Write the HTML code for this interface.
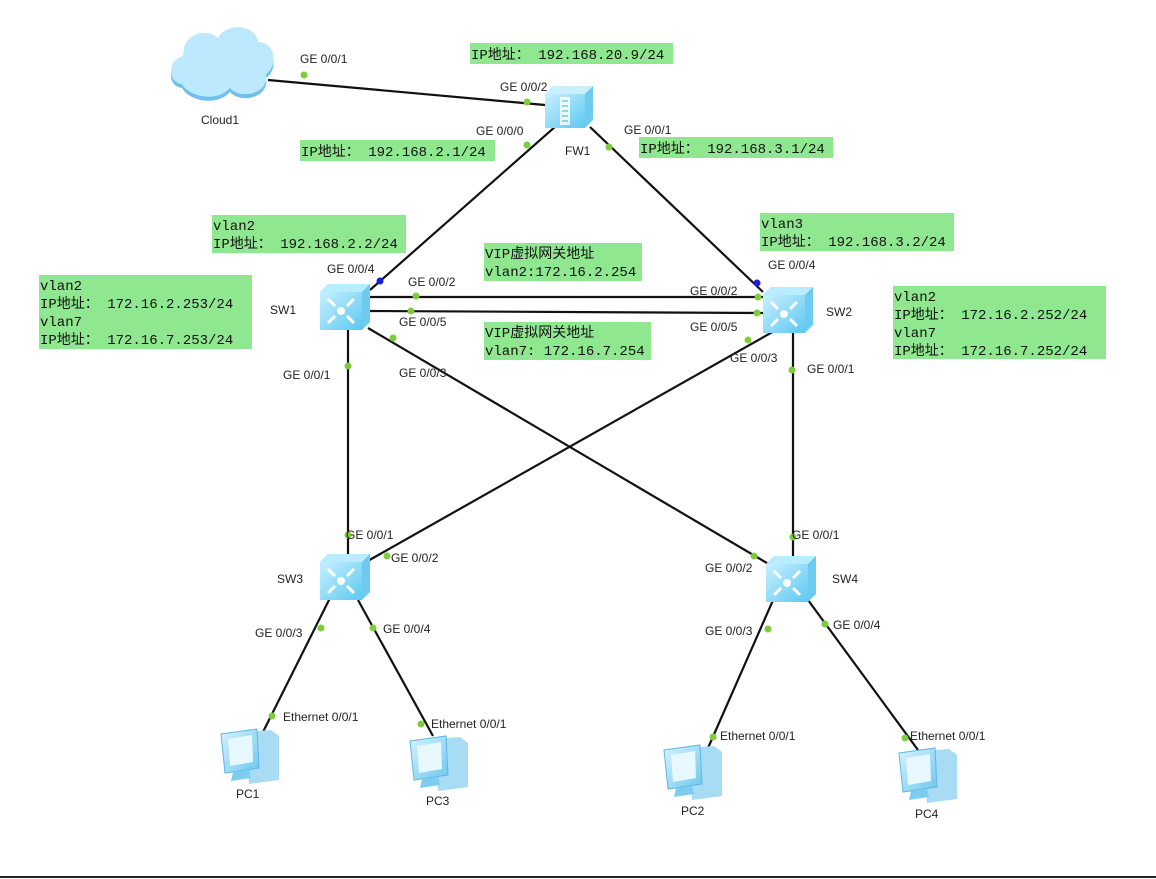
<!DOCTYPE html>
<html><head><meta charset="utf-8"><style>
html,body{margin:0;padding:0;background:#fff}
svg{display:block}
.l{font-family:"Liberation Sans","Noto Sans CJK SC",sans-serif;font-size:12px;fill:#222}
.m{font-family:"Liberation Mono","Noto Sans CJK SC",monospace;font-size:14px;fill:#111}
.g{fill:#8fe88f}
</style></head><body>
<svg width="1156" height="879" viewBox="0 0 1156 879">
<defs>
<linearGradient id="sw" x1="0" y1="0" x2="1" y2="1"><stop offset="0" stop-color="#c8f0ff"/><stop offset="1" stop-color="#5cc8f0"/></linearGradient>
<linearGradient id="pc" x1="0" y1="0" x2="1" y2="1"><stop offset="0" stop-color="#d8f4ff"/><stop offset="1" stop-color="#6cc6ee"/></linearGradient>
<g id="sw1">
<path d="M0 8 L8 0 L50 0 L50 38 L42 46 L0 46 Z" fill="#6ccbee"/>
<rect x="0" y="8" width="42" height="38" fill="url(#sw)"/>
<path d="M0 8 L8 0 L50 0 L42 8 Z" fill="#b8ecff"/>
<circle cx="21" cy="27" r="4" fill="#fff"/>
<path d="M8 15 l7 7 M34 15 l-7 7 M8 39 l7 -7 M34 39 l-7 -7" stroke="#fff" stroke-width="3"/>
</g>
<g id="pcg">
<path d="M24 6 L50 4 L58 10 L58 54 L28 58 Z" fill="#a8dcf4"/>
<path d="M0 8 L36 3 L38 42 L4 47 Z" fill="url(#pc)" stroke="#5cb8e6"/>
<path d="M7 13 L31 9 L32 36 L9 40 Z" fill="#e8f8ff"/>
<path d="M12 46 L28 44 L30 52 L10 55 Z" fill="#7ccdf0"/>
</g>
</defs>
<g stroke="#111" stroke-width="2.2" fill="none">
<line x1="268" y1="80" x2="545" y2="105"/>
<line x1="556" y1="126" x2="370" y2="290"/>
<line x1="590" y1="127" x2="763" y2="292"/>
<line x1="370" y1="297" x2="763" y2="297"/>
<line x1="370" y1="311" x2="763" y2="313"/>
<line x1="348" y1="330" x2="348" y2="555"/>
<line x1="368" y1="328" x2="772" y2="566"/>
<line x1="776" y1="330" x2="366" y2="562"/>
<line x1="793" y1="333" x2="793" y2="556"/>
<line x1="330" y1="598" x2="263" y2="732"/>
<line x1="358" y1="600" x2="433" y2="736"/>
<line x1="774" y1="598" x2="708" y2="748"/>
<line x1="808" y1="600" x2="918" y2="750"/>
</g>
<!-- cloud -->
<g>
<path d="M182 88 C166 86 168 62 184 60 C180 40 205 30 218 42 C226 26 256 28 258 46 C276 46 278 70 266 78 C270 98 240 104 230 92 C218 106 190 102 182 88 Z" fill="#6fc0ec"/>
<path d="M182 84 C166 82 168 58 184 56 C180 36 205 26 218 38 C226 22 256 24 258 42 C276 42 278 66 266 74 C270 94 240 100 230 88 C218 102 190 98 182 84 Z" fill="#bde9ff"/>
</g>
<!-- FW -->
<g transform="translate(545,86)">
<path d="M0 8 L8 0 L48 0 L48 34 L40 42 L0 42 Z" fill="#6ccbee"/>
<rect x="0" y="8" width="40" height="34" fill="url(#sw)"/>
<path d="M0 8 L8 0 L48 0 L40 8 Z" fill="#c8f0ff"/>
<rect x="15" y="11" width="10" height="28" fill="#fff" opacity=".8"/>
<path d="M17 15h6M17 20h6M17 25h6M17 30h6M17 35h6" stroke="#7cc" stroke-width="1.5"/>
</g>
<use href="#sw1" x="320" y="284"/>
<use href="#sw1" x="763" y="287"/>
<use href="#sw1" x="320" y="554"/>
<use href="#sw1" x="766" y="556"/>
<use href="#pcg" x="221" y="726"/>
<use href="#pcg" x="410" y="733"/>
<use href="#pcg" x="664" y="742"/>
<use href="#pcg" x="899" y="745"/>
<!-- dots -->
<g fill="#7dcc3c">
<circle cx="304" cy="75" r="3.5"/><circle cx="527" cy="102" r="3.5"/><circle cx="527" cy="145" r="3.5"/><circle cx="609" cy="147" r="3.5"/>
<circle cx="348" cy="366" r="3.5"/><circle cx="393" cy="338" r="3.5"/><circle cx="416" cy="296" r="3.5"/><circle cx="411" cy="311" r="3.5"/>
<circle cx="758" cy="297" r="3.5"/><circle cx="757" cy="313" r="3.5"/><circle cx="748" cy="340" r="3.5"/><circle cx="792" cy="370" r="3.5"/>
<circle cx="348" cy="535" r="3.5"/><circle cx="387" cy="556" r="3.5"/><circle cx="754" cy="556" r="3.5"/><circle cx="793" cy="537" r="3.5"/>
<circle cx="321" cy="628" r="3.5"/><circle cx="373" cy="628" r="3.5"/><circle cx="768" cy="629" r="3.5"/><circle cx="825" cy="624" r="3.5"/>
<circle cx="272" cy="716" r="3.5"/><circle cx="421" cy="724" r="3.5"/><circle cx="713" cy="737" r="3.5"/><circle cx="905" cy="738" r="3.5"/>
</g>
<circle cx="380" cy="281" r="3.5" fill="#1a1ae0"/><circle cx="757" cy="283" r="3.5" fill="#1a1ae0"/>
<!-- green boxes -->
<rect class="g" x="470" y="43" width="203" height="21"/>
<rect class="g" x="300" y="140" width="195" height="21"/>
<rect class="g" x="639" y="137" width="194" height="21"/>
<rect class="g" x="212" y="215" width="194" height="38"/>
<rect class="g" x="760" y="213" width="194" height="38"/>
<rect class="g" x="484" y="243" width="158" height="38"/>
<rect class="g" x="484" y="322" width="167" height="38"/>
<rect class="g" x="39" y="275" width="213" height="74"/>
<rect class="g" x="893" y="286" width="213" height="73"/>
<g class="m">
<text x="471" y="59">IP地址： 192.168.20.9/24</text>
<text x="301" y="156">IP地址： 192.168.2.1/24</text>
<text x="640" y="153">IP地址： 192.168.3.1/24</text>
<text x="213" y="230">vlan2</text><text x="213" y="248">IP地址： 192.168.2.2/24</text>
<text x="761" y="228">vlan3</text><text x="761" y="246">IP地址： 192.168.3.2/24</text>
<text x="485" y="258">VIP虚拟网关地址</text><text x="485" y="276">vlan2:172.16.2.254</text>
<text x="485" y="337">VIP虚拟网关地址</text><text x="485" y="355">vlan7: 172.16.7.254</text>
<text x="40" y="290">vlan2</text><text x="40" y="308">IP地址： 172.16.2.253/24</text><text x="40" y="326">vlan7</text><text x="40" y="344">IP地址： 172.16.7.253/24</text>
<text x="894" y="301">vlan2</text><text x="894" y="319">IP地址： 172.16.2.252/24</text><text x="894" y="337">vlan7</text><text x="894" y="355">IP地址： 172.16.7.252/24</text>
</g>
<g class="l">
<text x="300" y="63">GE 0/0/1</text>
<text x="500" y="91">GE 0/0/2</text>
<text x="476" y="135">GE 0/0/0</text>
<text x="624" y="134">GE 0/0/1</text>
<text x="201" y="124">Cloud1</text>
<text x="565" y="155">FW1</text>
<text x="327" y="273">GE 0/0/4</text>
<text x="408" y="286">GE 0/0/2</text>
<text x="399" y="326">GE 0/0/5</text>
<text x="399" y="377">GE 0/0/3</text>
<text x="283" y="379">GE 0/0/1</text>
<text x="270" y="314">SW1</text>
<text x="768" y="269">GE 0/0/4</text>
<text x="690" y="295">GE 0/0/2</text>
<text x="690" y="331">GE 0/0/5</text>
<text x="730" y="362">GE 0/0/3</text>
<text x="807" y="373">GE 0/0/1</text>
<text x="826" y="316">SW2</text>
<text x="346" y="539">GE 0/0/1</text>
<text x="391" y="562">GE 0/0/2</text>
<text x="277" y="583">SW3</text>
<text x="255" y="637">GE 0/0/3</text>
<text x="383" y="633">GE 0/0/4</text>
<text x="792" y="539">GE 0/0/1</text>
<text x="705" y="572">GE 0/0/2</text>
<text x="832" y="583">SW4</text>
<text x="705" y="635">GE 0/0/3</text>
<text x="833" y="629">GE 0/0/4</text>
<text x="283" y="721">Ethernet 0/0/1</text>
<text x="431" y="728">Ethernet 0/0/1</text>
<text x="720" y="740">Ethernet 0/0/1</text>
<text x="910" y="740">Ethernet 0/0/1</text>
<text x="236" y="798">PC1</text>
<text x="426" y="805">PC3</text>
<text x="681" y="815">PC2</text>
<text x="915" y="818">PC4</text>
</g>
<line x1="0" y1="877" x2="1156" y2="877" stroke="#222" stroke-width="2"/>
</svg>
</body></html>
